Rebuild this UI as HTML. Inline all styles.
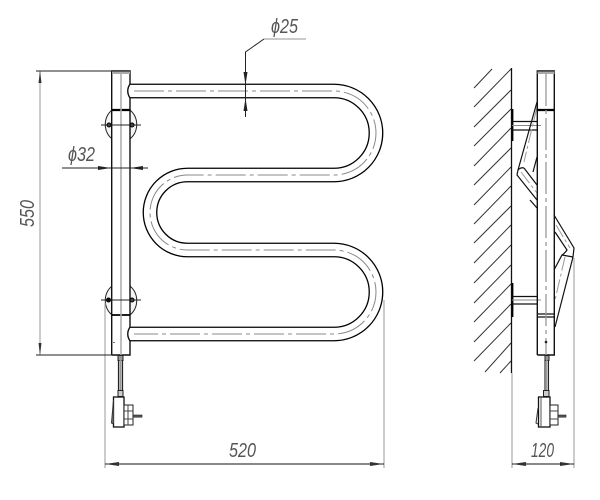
<!DOCTYPE html>
<html>
<head>
<meta charset="utf-8">
<style>
html,body{margin:0;padding:0;background:#fff}
svg{display:block}
text{font-family:"Liberation Sans",sans-serif;font-style:italic;font-size:20px;fill:#555}
</style>
</head>
<body>
<svg width="600" height="500" viewBox="0 0 600 500" xmlns="http://www.w3.org/2000/svg">
<rect width="600" height="500" fill="#fff"/>

<!-- serpentine pipe -->
<path d="M128 91H334A42 42 0 0 1 334 175H187.500A37.500 37.500 0 0 0 187.500 250H334A42 42 0 0 1 334 334H128" fill="none" stroke="#000" stroke-width="14.800"/>
<path d="M124 91H334A42 42 0 0 1 334 175H187.500A37.500 37.500 0 0 0 187.500 250H334A42 42 0 0 1 334 334H124" fill="none" stroke="#fff" stroke-width="12.200"/>
<path d="M134 91H334A42 42 0 0 1 334 175H187.500A37.500 37.500 0 0 0 187.500 250H334A42 42 0 0 1 334 334H134" fill="none" stroke="#888" stroke-width="1" stroke-dasharray="30 4 4 4"/>

<!-- mounts, front -->
<g fill="#f4f4f4" stroke="#222" stroke-width="1">
<path d="M112 110A19 19 0 0 0 112 139M130 110A19 19 0 0 1 130 139"/>
<path d="M112 286A19 19 0 0 0 112 315M130 286A19 19 0 0 1 130 315"/>
</g>

<!-- front column -->
<rect x="112" y="71" width="18" height="284" fill="#fff"/>
<g fill="none" stroke="#111" stroke-width="1.400">
<path d="M111.700 355V71H130V84Q125.500 91 130 98V327Q125.500 334 130 341V355H111.700"/>
</g>
<rect x="112" y="71" width="18" height="3" fill="#aaa"/>
<path d="M112 71H130" stroke="#111" stroke-width="1"/>
<path d="M112 110H130" stroke="#000" stroke-width="2.200"/>
<path d="M112 315H130" stroke="#000" stroke-width="1.800"/>
<path d="M121 74V355" stroke="#aaa" stroke-width="1.500"/>
<path d="M101 125H141M101 300H141" stroke="#222" stroke-width="1"/>
<circle cx="109" cy="125" r="2" fill="#444" stroke="#000"/>
<circle cx="132" cy="125" r="2" fill="#444" stroke="#000"/>
<circle cx="108.500" cy="300" r="2" fill="#111" stroke="#000"/>
<circle cx="132" cy="300" r="2" fill="#444" stroke="#000"/>
<path d="M113 342.500H115" stroke="#777" stroke-width="1"/>

<!-- front cord and plug -->
<rect x="118" y="355.500" width="5" height="5" fill="#999" stroke="#222" stroke-width="1"/>
<path d="M118.500 360V390M122.500 360V390" stroke="#222" stroke-width="1.200"/>
<path d="M120.500 360V390" stroke="#999" stroke-width="2"/>
<rect x="118" y="390.500" width="5" height="6" fill="#ccc" stroke="#222" stroke-width="1"/>
<rect x="113.500" y="397" width="10.500" height="30" fill="#fff" stroke="#111" stroke-width="1.300"/>
<path d="M113.500 400L111.500 423L113.500 424" fill="#777" stroke="#333" stroke-width="1"/>
<rect x="124" y="405" width="9" height="20" fill="#fff" stroke="#222" stroke-width="1"/>
<path d="M124 411H133M124 419H133M128 405V425" stroke="#444" stroke-width="1"/>
<rect x="133" y="415" width="9" height="2.200" fill="#555" stroke="#222" stroke-width=".6"/>

<!-- wall and hatching -->
<g stroke="#333" stroke-width="1" fill="none">
<path d="M474 88L492 69"/>
<path d="M474 107L511 69M474 127L511 90M474 146L511 109M474 166L511 128M474 185L511 148M474 205L511 167M474 224L511 186M474 243L511 206M474 263L511 225M474 283L511 245M474 303L511 265M474 322L511 284M474 342L511 304M474 361L511 323M485 372L511 343M500 373L511 361"/>
</g>
<path d="M511.500 68V373" stroke="#111" stroke-width="1.300"/>
<path d="M512.500 109V141M512.500 283V317" stroke="#000" stroke-width="1.800"/>

<!-- side view standoffs -->
<path d="M512 121.500H537M512 130H537M512 296.500H537M512 304H537" stroke="#111" stroke-width="1.200"/>
<path d="M512 125.500H541M512 300H541" stroke="#888" stroke-width="1"/>

<!-- side view pipes -->
<g fill="none" stroke="#111" stroke-width="1.200">
<path d="M537 102L518 170L517 175L537 200"/>
<path d="M537 157L533 172"/>
<path d="M524 168L537 185"/>
<path d="M518 170Q521 167 524 168"/>
<path d="M530 200L537 208"/>
<path d="M554 215L574 248L573 257L555 327"/>
<path d="M555 232L567 250Q564 254 562 255L554 270"/>
<path d="M562 255L573 257"/>
</g>
<path d="M537 107L524 162M521 172L537 193M556 225L570 248M565 257L555 300" stroke="#999" stroke-width="1" fill="none" stroke-dasharray="14 3 3 3"/>

<!-- side column -->
<path d="M537.300 355V71H554.300V355H537.300" fill="none" stroke="#111" stroke-width="1.400"/>
<rect x="537.500" y="71" width="17" height="3" fill="#aaa"/>
<path d="M537 71H554" stroke="#111" stroke-width="1"/>
<path d="M537 110H554" stroke="#000" stroke-width="2.200"/>
<path d="M537 314H554M537 317H554" stroke="#111" stroke-width="1.200"/>
<path d="M546 74V340" stroke="#999" stroke-width="1.300" stroke-dasharray="32 4 4 4"/>
<path d="M546 340V355" stroke="#999" stroke-width="1.300"/>
<circle cx="546" cy="342" r="1.300" fill="#222"/>

<!-- side cord and plug -->
<rect x="545" y="355.500" width="4" height="5" fill="#999" stroke="#222" stroke-width="1"/>
<path d="M545 360V390M548.500 360V390" stroke="#222" stroke-width="1.100"/>
<path d="M546.800 360V390" stroke="#999" stroke-width="1.500"/>
<rect x="543.500" y="390.500" width="5.500" height="6" fill="#ccc" stroke="#222" stroke-width="1"/>
<rect x="538.500" y="397" width="11.500" height="30" fill="#fff" stroke="#111" stroke-width="1.300"/>
<path d="M541 397V427" stroke="#555" stroke-width="1"/>
<path d="M538 408L536 423L538 424" fill="none" stroke="#333" stroke-width="1"/>
<rect x="550" y="405" width="8" height="20" fill="#fff" stroke="#222" stroke-width="1"/>
<path d="M550 411H558M550 419H558" stroke="#444" stroke-width="1"/>
<rect x="558" y="415" width="8" height="2.200" fill="#555" stroke="#222" stroke-width=".6"/>

<!-- dimensions: extension lines -->
<g stroke="#aaa" stroke-width="1.200" fill="none">
<path d="M40 71V355"/>
<path d="M105 303V468"/>
<path d="M384 300V468"/>
<path d="M512 373V468"/>
<path d="M574 258V468"/>
<path d="M264 39H306"/>
</g>
<path d="M36 71H112M36 355H112" stroke="#222" stroke-width="1"/>

<!-- 550 arrows -->
<path d="M40 71L38.500 83H41.500ZM40 355L38.500 343H41.500Z" fill="#333"/>

<!-- d25 -->
<path d="M264 39L245.500 52V117" fill="none" stroke="#222" stroke-width="1"/>
<path d="M245.500 85L243.500 72H247.500ZM245.500 98L243.500 111H247.500Z" fill="#222"/>

<!-- d32 -->
<path d="M62 168H148" stroke="#222" stroke-width="1"/>
<path d="M111 168L98 166V170ZM130 168L143 166V170Z" fill="#222"/>

<!-- 520 -->
<path d="M105 464H384" stroke="#111" stroke-width="1"/>
<path d="M105 464L119 462V466ZM384 464L370 462V466Z" fill="#333"/>

<!-- 120 -->
<path d="M512 464H574" stroke="#111" stroke-width="1"/>
<path d="M512 464L526 462V466ZM574 464L560 462V466Z" fill="#333"/>

<!-- labels -->
<text x="68" y="161" textLength="27" lengthAdjust="spacingAndGlyphs">ϕ32</text>
<text x="271" y="33" textLength="27" lengthAdjust="spacingAndGlyphs">ϕ25</text>
<text x="229" y="457" textLength="27" lengthAdjust="spacingAndGlyphs">520</text>
<text x="531" y="457" textLength="23" lengthAdjust="spacingAndGlyphs">120</text>
<text transform="translate(34 227) rotate(-90)" x="0" y="0" textLength="27" lengthAdjust="spacingAndGlyphs">550</text>
</svg>
</body>
</html>
